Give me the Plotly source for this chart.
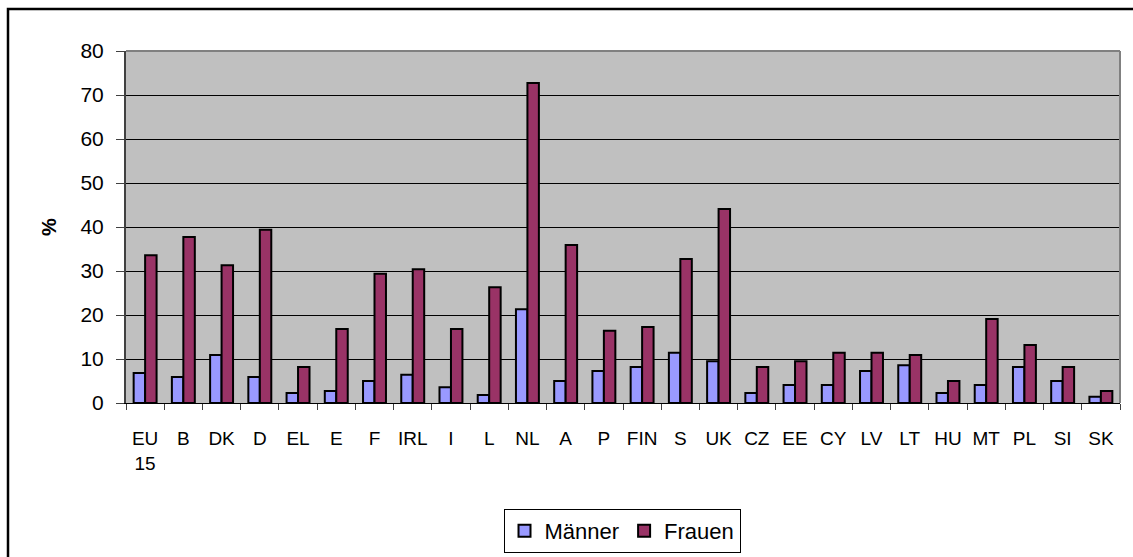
import plotly.graph_objects as go

categories = ["EU<br>15", "B", "DK", "D", "EL", "E", "F", "IRL", "I", "L", "NL", "A", "P",
              "FIN", "S", "UK", "CZ", "EE", "CY", "LV", "LT", "HU", "MT", "PL", "SI", "SK"]
maenner = [6.8, 5.9, 10.9, 5.9, 2.3, 2.7, 5.0, 6.4, 3.6, 1.8, 21.3, 5.0, 7.3,
           8.2, 11.4, 9.5, 2.3, 4.1, 4.1, 7.3, 8.6, 2.3, 4.1, 8.2, 5.0, 1.4]
frauen = [33.6, 37.7, 31.3, 39.4, 8.2, 16.8, 29.4, 30.4, 16.8, 26.3, 72.7, 35.9, 16.4,
          17.3, 32.7, 44.1, 8.2, 9.5, 11.4, 11.4, 10.9, 5.0, 19.1, 13.2, 8.2, 2.7]
y_ticks = [0, 10, 20, 30, 40, 50, 60, 70, 80]

FONT = "Liberation Sans, Arial, sans-serif"

fig = go.Figure()
fig.add_trace(go.Bar(x=categories, y=maenner, name="Männer",
                     marker=dict(color="#9999FF", line=dict(color="black", width=2))))
fig.add_trace(go.Bar(x=categories, y=frauen, name="Frauen",
                     marker=dict(color="#993366", line=dict(color="black", width=2))))

L, R, T, B = 126, 13, 51, 154
W, H = 1133, 557
pw, ph = W - L - R, H - T - B

fig.update_layout(
    width=W, height=H,
    margin=dict(l=L, r=R, t=T, b=B, pad=0, autoexpand=False),
    paper_bgcolor="white",
    plot_bgcolor="#C0C0C0",
    barmode="group",
    bargap=0.4,
    bargroupgap=0,
    font=dict(family=FONT, size=20, color="black"),
    showlegend=True,
    legend=dict(orientation="h", x=0.499, xanchor="center", y=(403 - 509) / ph, yanchor="top",
                bgcolor="white", bordercolor="black", borderwidth=1,
                font=dict(family=FONT, size=22, color="black"),
                itemsizing="constant", tracegroupgap=0, itemwidth=30),
    xaxis=dict(type="category", tickson="boundaries", ticks="outside", ticklen=6,
               tickcolor="#404040", showline=True, linecolor="black", linewidth=1,
               showgrid=False, tickfont=dict(size=19), ticklabelstandoff=18,
               tickangle=0, automargin=False, mirror=False),
    yaxis=dict(range=[0, 80], tickvals=y_ticks, ticks="outside", ticklen=8,
               tickcolor="#404040", showline=True, linecolor="#404040", linewidth=2,
               showgrid=True, gridcolor="black", gridwidth=1, zeroline=False,
               tickfont=dict(size=21), ticklabelstandoff=8, automargin=False,
               title=dict(text="<b>%</b>", font=dict(size=20), standoff=18)),
    shapes=[
        dict(type="line", xref="paper", yref="paper", x0=0, x1=1, y0=1, y1=1,
             line=dict(color="#808080", width=2)),
        dict(type="line", xref="paper", yref="paper", x0=1, x1=1, y0=0, y1=1,
             line=dict(color="#808080", width=2)),
        dict(type="rect", xref="paper", yref="paper",
             x0=(8 - L) / pw, x1=(W + 5 - L) / pw,
             y0=(403 - (H + 5)) / ph, y1=1 + (T - 9) / ph,
             line=dict(color="black", width=2.5), layer="below"),
    ],
)

fig.write_html("out.html", config={"displayModeBar": False},
               post_script="document.body.style.margin='0';document.body.style.overflow='hidden';")
